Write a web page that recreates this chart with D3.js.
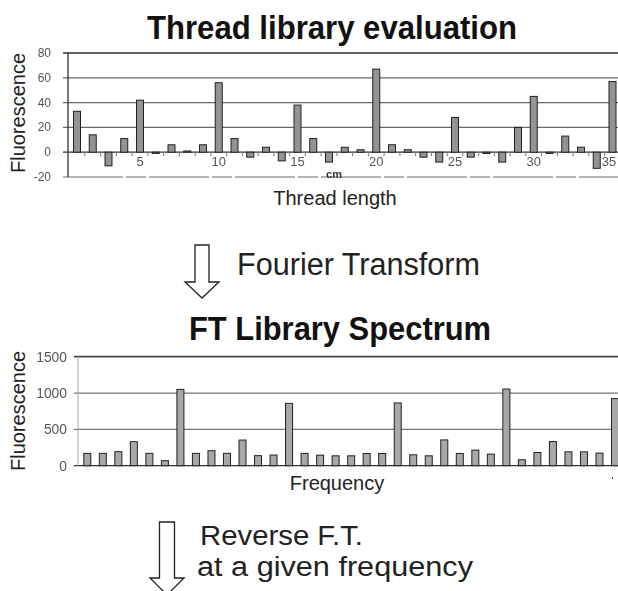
<!DOCTYPE html>
<html>
<head>
<meta charset="utf-8">
<script src="https://cdn.jsdelivr.net/npm/d3@7"></script>
<style>
  html, body { margin: 0; padding: 0; background: #fff; }
  svg { display: block; }
  text { font-family: "Liberation Sans", Arial, Helvetica, sans-serif; }
</style>
</head>
<body>
<script>
// Thread library evaluation: fluorescence per thread length (cm)
const threadLengths = [1,2,3,4,5,6,7,8,9,10,11,12,13,14,15,16,17,18,19,20,21,22,23,24,25,26,27,28,29,30,31,32,33,34,35];
const threadFluorescence = [33,14,-11,11,42,-1,6,1,6,56,11,-4,4,-7,38,11,-8,4,2,67,6,2,-4,-8,28,-4,-1,-8,20,45,-1,13,4,-13,57];
const threadXTicks = [5,10,15,20,25,30,35];
const threadYTicks = [-20,0,20,40,60,80];

// FT library spectrum: fluorescence per frequency bin
const freqBins = [1,2,3,4,5,6,7,8,9,10,11,12,13,14,15,16,17,18,19,20,21,22,23,24,25,26,27,28,29,30,31,32,33,34,35];
const spectrumFluorescence = [170,170,193,330,170,69,1050,170,206,170,353,138,147,858,170,145,136,136,168,168,864,150,136,355,168,214,159,1055,82,182,332,191,191,173,923];
const spectrumYTicks = [0,500,1000,1500];

const W = 618, H = 591;
const svg = d3.select("body").append("svg").attr("width", W).attr("height", H);
svg.append("rect").attr("width", W).attr("height", H).attr("fill", "#fff");

// soft scanned look for the plotted panels
const defs = svg.append("defs");
defs.append("filter").attr("id", "scan")
  .append("feGaussianBlur").attr("stdDeviation", 0.45);

// ---------- Panel 1 ----------
const x1 = d3.scalePoint().domain(threadLengths).range([77, 612.5]);
const y1 = d3.scaleLinear().domain([-20, 80]).range([177, 53]);
const g1 = svg.append("g").attr("filter", "url(#scan)");

g1.selectAll("line.grid").data(threadYTicks).join("line")
  .attr("class", "grid")
  .attr("x1", 63).attr("x2", W)
  .attr("y1", d => y1(d)).attr("y2", d => y1(d))
  .attr("stroke", d => (d === 0 || d === 80) ? "#333" : "#6a6a6a")
  .attr("stroke-width", d => d === 80 ? 1.6 : 1.2)
  .attr("stroke-dasharray", d => d === -20 ? "60,3,20,3" : null);

g1.append("line")
  .attr("x1", 68).attr("x2", 68).attr("y1", y1(80)).attr("y2", y1(-20))
  .attr("stroke", "#333").attr("stroke-width", 1.3);

g1.selectAll("text.ytick").data(threadYTicks).join("text")
  .attr("class", "ytick")
  .attr("x", 51).attr("y", d => y1(d) + 4)
  .attr("text-anchor", "end")
  .attr("font-size", 12).attr("fill", "#555")
  .text(d => d);

// small category ticks under the zero line
g1.selectAll("line.mtick").data(threadLengths.slice(0, -1)).join("line")
  .attr("class", "mtick")
  .attr("x1", d => x1(d) + x1.step() / 2).attr("x2", d => x1(d) + x1.step() / 2)
  .attr("y1", y1(0)).attr("y2", y1(0) + 4)
  .attr("stroke", "#777").attr("stroke-width", 1);

g1.selectAll("rect.bar").data(threadLengths).join("rect")
  .attr("class", "bar")
  .attr("x", d => x1(d) - 3.5)
  .attr("width", 7)
  .attr("y", (d, i) => y1(Math.max(0, threadFluorescence[i])))
  .attr("height", (d, i) => Math.abs(y1(threadFluorescence[i]) - y1(0)))
  .attr("fill", "#939393").attr("stroke", "#222").attr("stroke-width", 1);

g1.selectAll("text.xtick").data(threadXTicks).join("text")
  .attr("class", "xtick")
  .attr("x", d => Math.min(x1(d), W - 9)).attr("y", y1(0) + 14)
  .attr("text-anchor", "middle")
  .attr("font-family", "Liberation Serif, serif")
  .attr("font-size", 13).attr("fill", "#555")
  .text(d => d);

g1.append("text").attr("x", 334).attr("y", 178)
  .attr("text-anchor", "middle").attr("font-size", 11).attr("font-weight", "bold")
  .attr("fill", "#333").text("cm");

svg.append("text").attr("x", 332).attr("y", 39)
  .attr("text-anchor", "middle").attr("font-size", 34).attr("font-weight", "bold")
  .attr("textLength", 370).attr("lengthAdjust", "spacingAndGlyphs")
  .attr("fill", "#111").text("Thread library evaluation");

svg.append("text").attr("transform", "translate(25,113) rotate(-90)")
  .attr("text-anchor", "middle").attr("font-size", 20).attr("fill", "#222")
  .text("Fluorescence");

svg.append("text").attr("x", 335).attr("y", 205)
  .attr("text-anchor", "middle").attr("font-size", 20).attr("fill", "#222")
  .text("Thread length");

// ---------- Arrows and captions ----------
function downArrow(cx, top, shaftHalf, headHalf, headY, tipY) {
  return `M${cx - shaftHalf},${top} L${cx + shaftHalf},${top} L${cx + shaftHalf},${headY} ` +
         `L${cx + headHalf},${headY} L${cx},${tipY} L${cx - headHalf},${headY} ` +
         `L${cx - shaftHalf},${headY} Z`;
}
svg.append("path").attr("d", downArrow(202, 245, 7, 17, 282, 298))
  .attr("fill", "#fff").attr("stroke", "#222").attr("stroke-width", 1.3)
  .attr("stroke-linejoin", "miter");
svg.append("text").attr("x", 237).attr("y", 275)
  .attr("font-size", 31).attr("fill", "#222")
  .attr("textLength", 243).attr("lengthAdjust", "spacingAndGlyphs")
  .text("Fourier Transform");

svg.append("path").attr("d", downArrow(167, 522, 7.5, 17, 578, 595))
  .attr("fill", "#fff").attr("stroke", "#222").attr("stroke-width", 1.3);
svg.append("text").attr("x", 200).attr("y", 545)
  .attr("font-size", 27).attr("fill", "#222")
  .attr("textLength", 163).attr("lengthAdjust", "spacingAndGlyphs")
  .text("Reverse F.T.");
svg.append("text").attr("x", 197).attr("y", 576)
  .attr("font-size", 27).attr("fill", "#222")
  .attr("textLength", 276).attr("lengthAdjust", "spacingAndGlyphs")
  .text("at a given frequency");

// ---------- Panel 2 ----------
const x2 = d3.scalePoint().domain(freqBins).range([87.3, 615]);
const y2 = d3.scaleLinear().domain([0, 1500]).range([465.7, 356.7]);
const g2 = svg.append("g").attr("filter", "url(#scan)");

g2.selectAll("line.grid").data(spectrumYTicks).join("line")
  .attr("class", "grid")
  .attr("x1", 74).attr("x2", W)
  .attr("y1", d => y2(d)).attr("y2", d => y2(d))
  .attr("stroke", d => d === 1500 ? "#444" : d === 0 ? "#333" : "#777")
  .attr("stroke-width", d => d === 1500 ? 1.8 : 1.2);

g2.append("line")
  .attr("x1", 78).attr("x2", 78).attr("y1", y2(1500)).attr("y2", y2(0))
  .attr("stroke", "#aaa").attr("stroke-width", 1);

g2.selectAll("text.ytick").data(spectrumYTicks).join("text")
  .attr("class", "ytick")
  .attr("x", 67).attr("y", d => y2(d) + 5)
  .attr("text-anchor", "end")
  .attr("font-size", 15).attr("fill", "#555")
  .attr("textLength", d => String(d).length * 7.7).attr("lengthAdjust", "spacingAndGlyphs")
  .text(d => d);

g2.selectAll("rect.bar").data(freqBins).join("rect")
  .attr("class", "bar")
  .attr("x", d => x2(d) - 3.5)
  .attr("width", 7)
  .attr("y", (d, i) => y2(spectrumFluorescence[i]))
  .attr("height", (d, i) => y2(0) - y2(spectrumFluorescence[i]))
  .attr("fill", "#a8a8a8").attr("stroke", "#222").attr("stroke-width", 1);

g2.append("line").attr("x1", 612).attr("x2", 613).attr("y1", 478).attr("y2", 478)
  .attr("stroke", "#444").attr("stroke-width", 2);

svg.append("text").attr("x", 340).attr("y", 340)
  .attr("text-anchor", "middle").attr("font-size", 34).attr("font-weight", "bold")
  .attr("textLength", 302).attr("lengthAdjust", "spacingAndGlyphs")
  .attr("fill", "#111").text("FT Library Spectrum");

svg.append("text").attr("transform", "translate(25,411) rotate(-90)")
  .attr("text-anchor", "middle").attr("font-size", 20).attr("fill", "#222")
  .text("Fluorescence");

svg.append("text").attr("x", 337).attr("y", 490)
  .attr("text-anchor", "middle").attr("font-size", 20).attr("fill", "#222")
  .text("Frequency");
</script>
</body>
</html>
